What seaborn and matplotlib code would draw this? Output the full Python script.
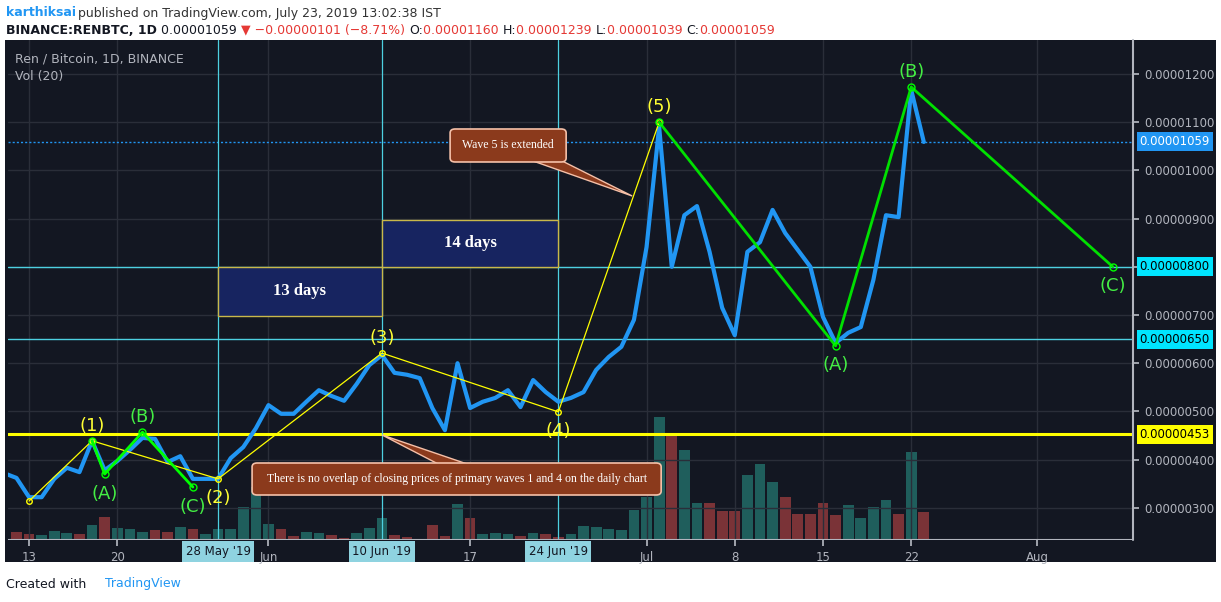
import numpy as np
import pandas as pd
import matplotlib
matplotlib.use("Agg")
import matplotlib.pyplot as plt
import seaborn as sns
from matplotlib.patches import Rectangle, FancyBboxPatch, Polygon

# ---------------- data ----------------
start_date = "2019-05-11"
close = [3.72,
         3.62, 3.22, 3.22, 3.60, 3.83, 3.74, 4.39, 3.78, 3.97, 4.20, 4.45, 4.43, 3.95, 4.07, 3.60, 3.60, 3.60, 4.03, 4.26, 4.65,
         5.13, 4.95, 4.95, 5.20, 5.44, 5.32, 5.22, 5.57, 5.96, 6.17, 5.80, 5.76, 5.69, 5.07, 4.61, 6.00, 5.07, 5.20, 5.28, 5.44,
         5.09, 5.65, 5.40, 5.20, 5.28, 5.40, 5.86, 6.13, 6.34, 6.90,
         8.41, 10.90, 8.00, 9.07, 9.26, 8.31, 7.15, 6.58, 8.31, 8.51, 9.18, 8.70, 8.35, 8.00, 6.96, 6.42, 6.63, 6.75, 7.73,
         9.07, 9.03, 11.67, 10.59]  # x 1e-6 BTC
vol_start = "2019-05-12"
volume = [8, 6, 5, 9, 7, 6, 15, 23, 12, 11, 8, 10, 8, 13, 11, 6, 11, 11, 33, 53,
          16, 11, 4, 8, 7, 5, 2, 7, 12, 22, 5, 3, 1, 15, 4, 36, 22, 6, 7, 6, 4, 7, 6, 3, 6, 14, 13, 11, 10, 30,
          43, 122, 106, 89, 37, 37, 29, 29, 65, 76, 58, 43, 26, 26, 37, 25, 35, 22, 33, 40, 26, 87, 28]
vol_dir = list("rrtttrtrtttrrtrttttt" + "trrttrrtttrrrrrtrtttrtrrtttttt" + "ttrttrrrtttrrrrrttttrtr")

primary_dates = ["2019-05-13", "2019-05-18", "2019-05-28", "2019-06-10", "2019-06-24", "2019-07-02"]
primary_vals = [3.14, 4.39, 3.60, 6.21, 4.99, 11.00]
primary_labels = ["", "(1)", "(2)", "(3)", "(4)", "(5)"]
minor_dates = ["2019-05-18", "2019-05-19", "2019-05-22", "2019-05-26"]
minor_vals = [4.39, 3.70, 4.57, 3.43]
corr_dates = ["2019-07-02", "2019-07-16", "2019-07-22", "2019-08-07"]
corr_vals = [11.00, 6.36, 11.73, 8.00]
abc = ["(A)", "(B)", "(C)"]

price_ticks = [3, 4, 5, 6, 7, 8, 9, 10, 11, 12]
marked_levels = [(10.59, "#2196f3", "white"), (8.00, "#00e5ff", "black"),
                 (6.50, "#00e5ff", "black"), (4.53, "#ffff00", "black")]
xtick_dates = ["2019-05-13", "2019-05-20", "2019-06-01", "2019-06-17", "2019-07-01",
               "2019-07-08", "2019-07-15", "2019-07-22", "2019-08-01"]
xtick_labels = ["13", "20", "Jun", "17", "Jul", "8", "15", "22", "Aug"]
hl_dates = ["2019-05-28", "2019-06-10", "2019-06-24"]
hl_labels = ["28 May '19", "10 Jun '19", "24 Jun '19"]

# ---------------- helpers ----------------
ref = pd.Timestamp("2019-05-13")
def d(s):
    return (pd.Timestamp(s) - ref).days

df = pd.DataFrame({"day": [d(start_date) + i for i in range(len(close))], "close": close})
vdf = pd.DataFrame({"day": [d(vol_start) + i for i in range(len(volume))], "vol": volume,
                    "up": vol_dir})

BG = "#131722"
GRID = "#2a2e39"
sns.set_theme(style="dark")
fig = plt.figure(figsize=(12.21, 6.02), dpi=100, facecolor="white")
W, H = 1221, 602
bgax = fig.add_axes([5 / W, 40 / H, 1211 / W, 522 / H], zorder=-10)
bgax.set_facecolor(BG)
bgax.set_xticks([]); bgax.set_yticks([])
for sp in bgax.spines.values():
    sp.set_visible(False)
pos = [8 / W, (H - 540) / H, (1133 - 8) / W, 500 / H]
axv = fig.add_axes(pos, zorder=0)
ax = fig.add_axes(pos, sharex=axv, zorder=1)
axv.set_facecolor(BG)
ax.patch.set_visible(False)
xmin, xmax = -1.67, 87.6
ax.set_xlim(xmin, xmax)
ax.set_ylim(2.332, 12.705)
axv.set_ylim(0, 497)

for t in price_ticks:
    ax.axhline(t, color=GRID, lw=1, zorder=0)
for s in xtick_dates:
    ax.axvline(d(s), color=GRID, lw=1, zorder=0)

colors = ["#1f5e5c" if u == "t" else "#7a3337" for u in vdf["up"]]
axv.bar(vdf["day"], vdf["vol"], width=0.85, color=colors, edgecolor="none", linewidth=0, zorder=1)
axv.set_yticks([])
axv.tick_params(axis="x", labelbottom=False, length=0)
for sp in axv.spines.values():
    sp.set_visible(False)

ax.axhline(8.00, color="#4dd0e1", lw=1)
ax.axhline(6.50, color="#4dd0e1", lw=1)
ax.axhline(4.53, color="#ffff00", lw=2.2)
ax.axhline(10.59, color="#2196f3", lw=1, ls=(0, (1.5, 1.5)))
for s in hl_dates:
    ax.axvline(d(s), color="#4dd0e1", lw=0.9)

for (a, b, lo, hi, txt) in [("2019-05-28", "2019-06-10", 6.98, 8.00, "13 days"),
                            ("2019-06-10", "2019-06-24", 8.00, 8.97, "14 days")]:
    ax.add_patch(Rectangle((d(a), lo), d(b) - d(a), hi - lo, facecolor="#172460",
                           edgecolor="#c9b84a", lw=1, zorder=2))
    ax.text((d(a) + d(b)) / 2, (lo + hi) / 2, txt, color="white", ha="center", va="center",
            fontsize=12, fontweight="bold", family="Liberation Serif", zorder=3)

sns.lineplot(data=df, x="day", y="close", ax=ax, color="#2196f3", lw=3, zorder=5)

px = [d(s) for s in primary_dates]
ax.plot(px, primary_vals, color="#ffff00", lw=0.9, zorder=6)
ax.plot(px, primary_vals, "o", mfc="none", mec="#ffff00", ms=4, zorder=6)
mx = [d(s) for s in minor_dates]
ax.plot(mx, minor_vals, color="#00ff00", lw=2, zorder=6)
ax.plot(mx, minor_vals, "o", mfc="none", mec="#00ff00", ms=5, zorder=6)
cx = [d(s) for s in corr_dates]
ax.plot(cx, corr_vals, color="#00e000", lw=2, zorder=6)
ax.plot(cx, corr_vals, "o", mfc="none", mec="#00ff00", ms=5, zorder=6)

lf = dict(fontsize=13, ha="center", family="DejaVu Sans", zorder=7)
offs = [0, 0.12, -0.2, 0.12, -0.2, 0.12]
for x, v, l, o in zip(px, primary_vals, primary_labels, offs):
    if l:
        ax.text(x, v + o, l, color="#ffff33", va="bottom" if o > 0 else "top", **lf)
moffs = [-0.22, 0.12, -0.22]
for x, v, l, o in zip(mx[1:], minor_vals[1:], abc, moffs):
    ax.text(x, v + o, l, color="#44ee44", va="bottom" if o > 0 else "top", **lf)
for x, v, l, o in zip(cx[1:], corr_vals[1:], abc, moffs):
    ax.text(x, v + o, l, color="#44ee44", va="bottom" if o > 0 else "top", **lf)

def X(p): return (p - 29) / 12.6
def Y(p): return 12 - (p - 74) / 48.2

def callout(x0, y0, x1, y1, tip, base, text, fs):
    ax.add_patch(Polygon([base[0], base[1], tip], closed=True, facecolor="#8b3a1c",
                         edgecolor="#f5c0a8", lw=1, zorder=8))
    ax.add_patch(FancyBboxPatch((x0, y0), x1 - x0, y1 - y0,
                                boxstyle="round,pad=0,rounding_size=0.4", mutation_aspect=0.2,
                                facecolor="#8b3a1c", edgecolor="#f5c0a8", lw=1.2, zorder=9))
    ax.text((x0 + x1) / 2, (y0 + y1) / 2, text, color="white", ha="center", va="center",
            fontsize=fs, family="Liberation Serif", zorder=10)

callout(X(450), Y(162), X(566), Y(129), (X(632), Y(196)), [(X(530), Y(160)), (X(560), Y(160))],
        "Wave 5 is extended", 8.5)
callout(X(252), Y(495), X(661), Y(463), (X(382), Y(435)), [(X(440), Y(465)), (X(470), Y(465))],
        "There is no overlap of closing prices of primary waves 1 and 4 on the daily chart", 8.5)

for sp in ax.spines.values():
    sp.set_visible(False)
ax.set_xlabel(""); ax.set_ylabel("")
ax.yaxis.tick_right()
ax.set_yticks(price_ticks)
ax.set_yticklabels(["" if t == 8 else f"{t * 1e-6:.8f}" for t in price_ticks], fontsize=8.5, color="#b2b5be")
ax.tick_params(axis="y", length=4, color="#b2b5be", pad=4, right=True, left=False)
ax.set_xticks([d(s) for s in xtick_dates])
ax.set_xticklabels(xtick_labels, fontsize=8.5, color="#b2b5be")
ax.tick_params(axis="x", length=4, color="#b2b5be", pad=4, bottom=True)
ax.axhline(2.332, color="#b2b5be", lw=1.5)
ax.axvline(xmax, color="#b2b5be", lw=1.5, clip_on=False)

for v, fc, tc in marked_levels:
    ax.text(1.006, v, f"{v * 1e-6:.8f}", transform=ax.get_yaxis_transform(), fontsize=8.5,
            color=tc, va="center", ha="left",
            bbox=dict(boxstyle="square,pad=0.25", facecolor=fc, edgecolor="none"), zorder=20, clip_on=False)
for s, l in zip(hl_dates, hl_labels):
    ax.text(d(s), -0.01, l, transform=ax.get_xaxis_transform(), fontsize=8.5, color="#131722",
            ha="center", va="top", bbox=dict(boxstyle="square,pad=0.3", facecolor="#8fd3e0", edgecolor="none"),
            clip_on=False, zorder=20)

ax.text(0.006, 0.955, "Ren / Bitcoin, 1D, BINANCE", transform=ax.transAxes, color="#b2b5be", fontsize=9)
ax.text(0.006, 0.92, "Vol (20)", transform=ax.transAxes, color="#b2b5be", fontsize=9)

fig.text(6 / W, 1 - 13 / H, "karthiksai", color="#2196f3", fontsize=9, fontweight="bold", va="center")
fig.text(78 / W, 1 - 13 / H, "published on TradingView.com, July 23, 2019 13:02:38 IST", color="#333333",
         fontsize=9, va="center")
hdr = [("BINANCE:RENBTC, 1D ", "#131722", True), ("0.00001059 ", "#131722", False),
       ("\u25BC \u22120.00000101 (\u22128.71%) ", "#e53935", False), ("O:", "#131722", False),
       ("0.00001160 ", "#e53935", False), ("H:", "#131722", False), ("0.00001239 ", "#e53935", False),
       ("L:", "#131722", False), ("0.00001039 ", "#e53935", False), ("C:", "#131722", False),
       ("0.00001059", "#e53935", False)]
fig.canvas.draw()
r = fig.canvas.get_renderer()
xpos = 6 / W
for t, c, b in hdr:
    tt = fig.text(xpos, 1 - 30 / H, t, color=c, fontsize=9, fontweight="bold" if b else "normal", va="center")
    bb = tt.get_window_extent(renderer=r)
    xpos += bb.width / W
fig.text(6 / W, 1 - 584 / H, "Created with", color="#131722", fontsize=9, va="center")
fig.text(105 / W, 1 - 584 / H, "TradingView", color="#2196f3", fontsize=9, va="center")

fig.savefig("out.png", dpi=100, facecolor="white")
